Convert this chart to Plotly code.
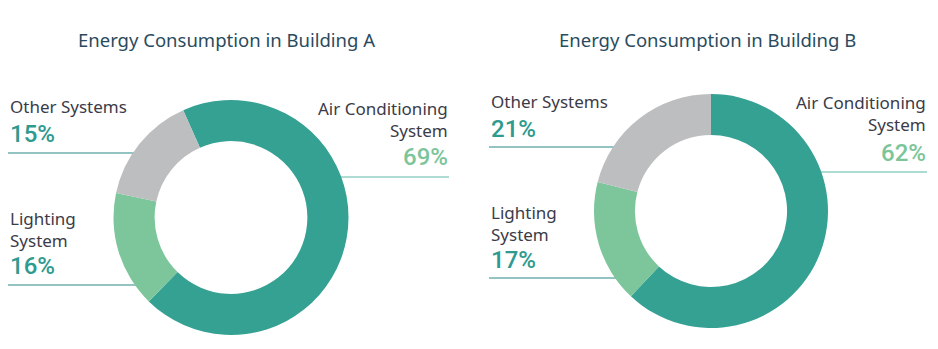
import plotly.graph_objects as go

W, H = 938, 349

# Energy use shares per building (%), slices listed clockwise from the start angle
categories = ["Air Conditioning System", "Lighting System", "Other Systems"]
building_a = [69, 16, 15]
building_b = [62, 17, 21]
titles = ["Energy Consumption in Building A", "Energy Consumption in Building B"]

slice_colors = ["#34a193", "#7dc59b", "#bdbebf"]
label_color = "#3b3b48"
pct_color = "#2f9a8f"
ac_pct_color = "#7cc59a"
title_color = "#2a4b5e"
left_line_color = "#2b8787"
right_line_color = "#5fbaa8"
FONT = "Noto Sans"
PCT_FONT = "Roboto"


def px_domain(cx, cy, r):
    return dict(x=[(cx - r) / W, (cx + r) / W], y=[1 - (cy + r) / H, 1 - (cy - r) / H])


fig = go.Figure()

# donut layouts: centre (px), radius (px), start rotation
donuts = [
    dict(values=building_a, cx=231, cy=217.5, r=117.5, rotation=-24),
    dict(values=building_b, cx=711, cy=211, r=117, rotation=0),
]
for d in donuts:
    fig.add_trace(go.Pie(
        labels=categories, values=d["values"], hole=0.65, sort=False,
        direction="clockwise", rotation=d["rotation"],
        marker=dict(colors=slice_colors, line=dict(width=0)),
        textinfo="none", hoverinfo="label+percent", showlegend=False,
        domain=px_domain(d["cx"], d["cy"], d["r"]),
    ))

# invisible pixel-space axes for labels and leader lines
fig.add_trace(go.Scatter(x=[0, W], y=[0, H], mode="markers",
                         marker=dict(opacity=0), hoverinfo="skip", showlegend=False))


def txt(x, y, s, size, color, anchor="left", weight="normal", family=FONT):
    fig.add_annotation(x=x, y=y, text=s, showarrow=False, xanchor=anchor, align=anchor,
                       yanchor="middle", borderpad=0,
                       font=dict(family=family, size=size, color=color, weight=weight))


def line(x0, x1, y, color):
    fig.add_shape(type="line", x0=x0, x1=x1, y0=y, y1=y, layer="below",
                  line=dict(color=color, width=1.2))


title_x = [226, 707]
for tx, t in zip(title_x, titles):
    txt(tx, 39, t, 18.5, title_color, anchor="center")

LBL, PCT = 17, 24
blocks = [
    dict(vals=building_a, lx=9, rx=449,
         other_y=106, other_pct_y=134, other_line=153, other_line_end=135,
         light_y=229, light_pct_y=266, light_line=285, light_line_end=140,
         ac_y=119, ac_pct_y=157, ac_line=177, ac_line_start=335),
    dict(vals=building_b, lx=490, rx=927,
         other_y=101, other_pct_y=129, other_line=147, other_line_end=615,
         light_y=223.5, light_pct_y=260, light_line=278, light_line_end=620,
         ac_y=113, ac_pct_y=153, ac_line=172, ac_line_start=815),
]

for b in blocks:
    ac, light, other = b["vals"]
    # other systems
    txt(b["lx"], b["other_y"], "Other Systems", LBL, label_color)
    txt(b["lx"], b["other_pct_y"], f"{other}%", PCT, pct_color, weight=500, family=PCT_FONT)
    line(b["lx"] - 1, b["other_line_end"], b["other_line"], left_line_color)
    # lighting
    txt(b["lx"], b["light_y"], "Lighting<br>System", LBL, label_color)
    txt(b["lx"], b["light_pct_y"], f"{light}%", PCT, pct_color, weight=500, family=PCT_FONT)
    line(b["lx"] - 1, b["light_line_end"], b["light_line"], left_line_color)
    # air conditioning
    txt(b["rx"], b["ac_y"], "Air Conditioning<br>System", LBL, label_color, anchor="right")
    txt(b["rx"], b["ac_pct_y"], f"{ac}%", PCT, ac_pct_color, anchor="right",
        weight=500, family=PCT_FONT)
    line(b["ac_line_start"], b["rx"], b["ac_line"], right_line_color)

fig.update_layout(
    width=W, height=H, margin=dict(l=0, r=0, t=0, b=0),
    paper_bgcolor="white", plot_bgcolor="white",
    xaxis=dict(range=[0, W], visible=False, domain=[0, 1], fixedrange=True),
    yaxis=dict(range=[H, 0], visible=False, domain=[0, 1], fixedrange=True),
)

fig.write_html("out.html")
